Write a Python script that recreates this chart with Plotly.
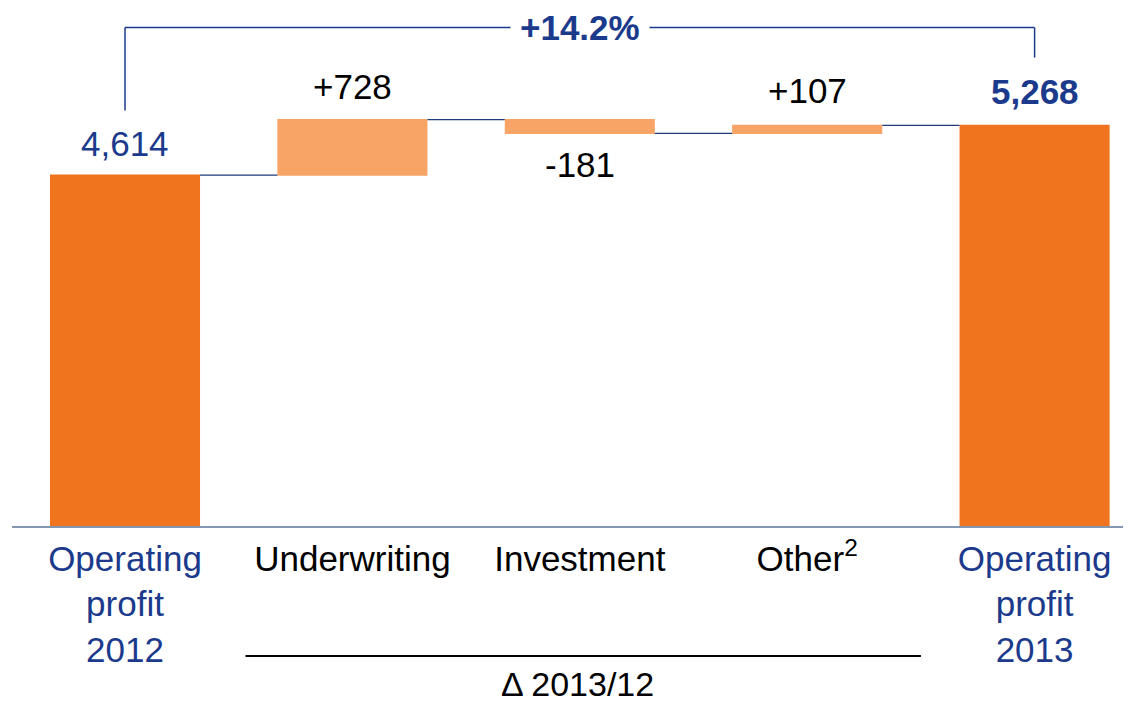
import plotly.graph_objects as go

categories = ["Operating profit 2012", "Underwriting", "Investment", "Other", "Operating profit 2013"]
tick_labels = [
    "<span style='color:#1B3A8C'>Operating</span><br><span style='color:#1B3A8C'>profit</span><br><span style='color:#1B3A8C'>2012</span>",
    "Underwriting",
    "Investment",
    "Other<sup>2</sup>",
    "<span style='color:#1B3A8C'>Operating</span><br><span style='color:#1B3A8C'>profit</span><br><span style='color:#1B3A8C'>2013</span>",
]
measures = ["absolute", "relative", "relative", "relative", "total"]
values = [4614, 728, -181, 107, 5268]
value_labels = ["4,614", "+728", "-181", "+107", "<b>5,268</b>"]
label_colors = ["#1B3A8C", "#000000", "#000000", "#000000", "#1B3A8C"]
label_shift = [10, 12, -10, 13, 12]
change_label = "<b>+14.2%</b>"
group_label = "Δ 2013/12"

FONT = "Liberation Sans, Arial, sans-serif"
BLUE = "#1B3A8C"

fig = go.Figure()
fig.add_trace(go.Waterfall(
    x=categories, y=values, measure=measures,
    totals=dict(marker=dict(color="#F0731E")),
    increasing=dict(marker=dict(color="#F8A466")),
    decreasing=dict(marker=dict(color="#F8A466")),
    connector=dict(mode="between", line=dict(color="#1F3A7A", width=1.3)),
    textinfo="none", hoverinfo="skip", showlegend=False,
))

# running levels
levels = []
run = 0
for m, v in zip(measures, values):
    if m == "absolute":
        start, run = 0, v
    elif m == "total":
        start = 0
    else:
        start, run = run, run + v
    levels.append((start, run))

anns = []
for i, (cat, (s, e), txt, col, v) in enumerate(zip(categories, levels, value_labels, label_colors, values)):
    if measures[i] == "relative" and v < 0:
        anns.append(dict(x=cat, y=min(s, e), text=txt, showarrow=False, yanchor="top", yshift=label_shift[i],
                         font=dict(size=35, color=col, family=FONT)))
    else:
        anns.append(dict(x=cat, y=max(s, e), text=txt, showarrow=False, yanchor="bottom", yshift=label_shift[i],
                         font=dict(size=35, color=col, family=FONT)))

start_total = levels[0][1]
end_total = levels[-1][1]
top_level = 6553
shapes = [
    dict(type="line", xref="x", yref="y", x0=0, x1=0, y0=start_total + 850, y1=top_level, line=dict(color=BLUE, width=1.5)),
    dict(type="line", xref="x", yref="y", x0=0, x1=4, y0=top_level, y1=top_level, line=dict(color=BLUE, width=1.5)),
    dict(type="line", xref="x", yref="y", x0=4, x1=4, y0=end_total + 890, y1=top_level, line=dict(color=BLUE, width=1.5)),
    dict(type="line", xref="x", yref="paper", x0=0.53, x1=3.5, y0=-0.251, y1=-0.251, line=dict(color="#000000", width=2)),
]
anns.append(dict(x=2, y=top_level, text=change_label, showarrow=False, bgcolor="white", borderpad=9,
                 font=dict(size=35, color=BLUE, family=FONT)))
anns.append(dict(x=1.99, y=-0.305, xref="x", yref="paper", yanchor="middle", text=group_label, showarrow=False,
                 font=dict(size=34, color="#000000", family=FONT)))

fig.update_layout(
    width=1123, height=697,
    margin=dict(l=4, r=0, t=0, b=179),
    paper_bgcolor="white", plot_bgcolor="white",
    font=dict(family=FONT, size=35, color="#000000"),
    waterfallgap=0.34,
    xaxis=dict(tickmode="array", tickvals=categories, ticktext=tick_labels, range=[-0.497, 4.424],
               showline=True, linecolor="#8497B0", linewidth=1.5, ticks="", showgrid=False,
               ticklabelstandoff=1,
               tickfont=dict(size=35, family=FONT, color="#000000")),
    yaxis=dict(range=[0, 6810], visible=False, showgrid=False, zeroline=False),
    shapes=shapes, annotations=anns,
)
fig.write_html("out.html")
